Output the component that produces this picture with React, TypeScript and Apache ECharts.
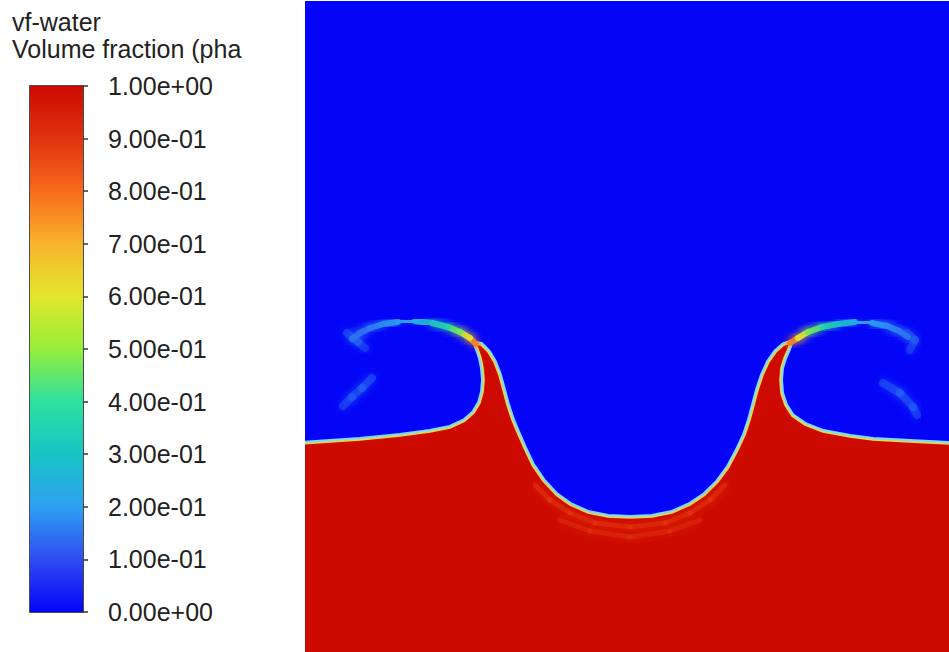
import React, { useEffect, useRef } from "react";
import * as echarts from "echarts";

// ---- colour scale (volume fraction of water, 0 .. 1) ----
const colormapColors = [
  "#0404f6", "#2f4cf2", "#2ea0f2", "#18c4c4", "#2ee0a0", "#96ee3a",
  "#e2e62c", "#f8b42c", "#f86a1c", "#e03210", "#cc0a00",
];
const colorbarTicks = [0, 0.1, 0.2, 0.3, 0.4, 0.5, 0.6, 0.7, 0.8, 0.9, 1.0];

const titleLines = ["vf-water", "Volume fraction (pha"];

// ---- water / air interface (domain coordinates, % of width / height) ----
const interfaceX = [
  0, 3.88, 8.54, 14.75, 19.41, 22.52, 24.84, 26.24, 27.17, 27.64, 27.8, 27.64, 27.33, 26.86, 26.55,
  27.33, 28.42, 29.35, 30.12, 30.75, 31.37, 32.14, 32.92, 34.01, 35.25, 36.96, 38.98, 41.15, 43.94,
  47.05, 50.47, 53.88, 56.99, 59.78, 62.11, 64.13, 65.84, 67.24, 68.32, 69.1, 69.72, 70.34, 71.12,
  72.05, 73.14, 74.38, 75.31,
  75.0, 74.38, 73.91, 73.76, 73.91, 74.53, 75.62, 77.64, 80.43, 84.63, 88.2, 93.94, 100,
];
const interfaceY = [
  32.0, 32.26, 32.57, 33.18, 33.79, 34.41, 35.48, 36.71, 38.25, 39.94, 41.78, 43.63, 45.16, 46.54, 47.31,
  47.16, 46.08, 44.55, 42.55, 40.25, 37.94, 35.64, 33.79, 31.34, 28.73, 26.27, 24.12, 22.58, 21.35,
  20.74, 20.58, 20.74, 21.35, 22.58, 24.12, 26.11, 28.42, 31.03, 33.33, 35.64, 37.94, 40.25, 42.55,
  44.55, 46.08, 47.16, 47.47,
  46.54, 45.16, 43.63, 41.78, 39.78, 37.94, 36.25, 34.87, 33.79, 33.03, 32.57, 32.26, 31.95,
];

// ---- thin water films over the breaking crests: [x, y, volume fraction] ----
const filmLeft = [
  [26.55, 47.31, 0.78], [25.62, 48.23, 0.6], [24.07, 49.16, 0.46], [22.2, 49.92, 0.35],
  [19.72, 50.54, 0.27], [17.08, 50.84, 0.22], [14.44, 50.69, 0.19], [12.11, 50.38, 0.17],
  [10.09, 49.77, 0.15], [8.54, 49.0, 0.14], [7.3, 48.08, 0.12],
];
const filmRight = [
  [75.31, 47.47, 0.78], [76.55, 48.23, 0.6], [78.11, 49.16, 0.46], [80.28, 49.92, 0.35],
  [82.76, 50.38, 0.27], [85.4, 50.69, 0.22], [88.04, 50.54, 0.19], [90.37, 50.08, 0.17],
  [92.24, 49.31, 0.15], [93.63, 48.39, 0.13],
];
const blobLeft = [[6.52, 49.0, 0.16], [8.23, 47.62, 0.15], [9.32, 46.7, 0.14]];
const blobRight = [[93.48, 49.0, 0.16], [94.72, 47.93, 0.15], [93.94, 46.39, 0.14]];
const streakLeft = [[10.4, 42.09, 0.17], [8.85, 40.55, 0.16], [7.3, 39.17, 0.15], [5.9, 37.79, 0.14]];
const streakRight = [[89.75, 41.32, 0.17], [92.39, 39.78, 0.16], [94.41, 37.63, 0.15], [95.03, 36.41, 0.14]];
const rippleInner = [
  [35.71, 25.65, 0.86], [38.04, 23.35, 0.86], [41.15, 21.35, 0.86], [45.03, 19.82, 0.86],
  [50.47, 19.2, 0.86], [55.9, 19.82, 0.86], [59.78, 21.35, 0.86], [62.89, 23.35, 0.86], [65.22, 25.65, 0.86],
];
const rippleOuter = [
  [39.6, 20.28, 0.88], [44.25, 18.59, 0.88], [50.47, 17.67, 0.88], [56.68, 18.59, 0.88], [61.34, 20.28, 0.88],
];

const BLUE = colormapColors[0];
const RED = colormapColors[colormapColors.length - 1];

function fmtExp(v: number) {
  const [m, e] = v.toExponential(2).split("e");
  const n = parseInt(e, 10);
  return m + "e" + (n < 0 ? "-" : "+") + String(Math.abs(n)).padStart(2, "0");
}

export default function App() {
  const ref = useRef<HTMLDivElement>(null);
  useEffect(() => {
    if (!ref.current) return;
    const chart = echarts.init(ref.current, null, { renderer: "svg" });

    const interfacePts = interfaceX.map((x, i) => [x, interfaceY[i]]);

    const groups: { kind: string; pts: number[][] }[] = [
      { kind: "film", pts: filmLeft },
      { kind: "film", pts: filmRight },
      { kind: "faint", pts: blobLeft },
      { kind: "faint", pts: blobRight },
      { kind: "faint", pts: streakLeft },
      { kind: "faint", pts: streakRight },
      { kind: "ripple", pts: rippleInner },
      { kind: "ripple", pts: rippleOuter },
    ];
    const filmData: number[][] = [];
    groups.forEach((g, gi) => g.pts.forEach((p) => filmData.push([p[0], p[1], p[2], gi])));

    const stops = colormapColors.map((c, i) => ({ offset: i / (colormapColors.length - 1), color: c }));

    const labelFont = { fontFamily: "Liberation Sans, Arial, sans-serif", fontSize: 25, color: "#222" };

    chart.setOption({
      animation: false,
      backgroundColor: "#ffffff",
      graphic: titleLines.map((t, i) => ({
        type: "text",
        left: 12,
        top: 9 + i * 27,
        style: { text: t, font: "25px 'Liberation Sans', Arial, sans-serif", fill: "#222" },
      })),
      grid: [
        { left: 305, top: 1, width: 644, height: 651, show: true, backgroundColor: BLUE, borderWidth: 0 },
        { left: 30, top: 86, width: 53, height: 526, show: true, borderColor: "#111", borderWidth: 1.5, backgroundColor: "transparent" },
      ],
      xAxis: [
        { gridIndex: 0, type: "value", min: 0, max: 100, show: false },
        { gridIndex: 1, type: "category", data: ["vf-water"], show: false },
      ],
      yAxis: [
        { gridIndex: 0, type: "value", min: 0, max: 100, show: false },
        {
          gridIndex: 1,
          type: "value",
          min: 0,
          max: 1,
          interval: 0.1,
          position: "right",
          axisLine: { show: false },
          splitLine: { show: false },
          axisTick: { show: true, length: 5, customValues: colorbarTicks, lineStyle: { color: "#333", width: 1.5 } },
          axisLabel: { margin: 25, customValues: colorbarTicks, formatter: (v: number) => fmtExp(v), ...labelFont },
        },
      ],
      visualMap: {
        show: false,
        seriesIndex: 2,
        dimension: 2,
        min: 0,
        max: 1,
        inRange: { color: colormapColors },
      },
      series: [
        {
          type: "bar",
          xAxisIndex: 1,
          yAxisIndex: 1,
          data: [1],
          barWidth: "100%",
          itemStyle: { color: new echarts.graphic.LinearGradient(0, 1, 0, 0, stops) },
          silent: true,
        },
        {
          type: "custom",
          xAxisIndex: 0,
          yAxisIndex: 0,
          clip: true,
          data: interfacePts,
          encode: { x: 0, y: 1 },
          renderItem: (params: any, api: any) => {
            if (params.dataIndex !== 0) return null;
            const pts = interfacePts.map((p) => api.coord(p));
            const base = [api.coord([100, 0]), api.coord([0, 0])];
            return {
              type: "group",
              children: [
                { type: "polyline", shape: { points: pts }, style: { stroke: "#7fd8ff", lineWidth: 6, fill: "none", lineJoin: "round" } },
                { type: "polygon", shape: { points: pts.concat(base) }, style: { fill: RED } },
                { type: "polyline", shape: { points: pts }, style: { stroke: "#f0d83a", lineWidth: 1.6, fill: "none", lineJoin: "round" } },
              ],
            };
          },
          silent: true,
        },
        {
          type: "custom",
          xAxisIndex: 0,
          yAxisIndex: 0,
          clip: true,
          data: filmData,
          encode: { x: 0, y: 1 },
          renderItem: (params: any, api: any) => {
            const i = params.dataIndex;
            const cur = filmData[i];
            const nxt = filmData[i + 1];
            if (!nxt || nxt[3] !== cur[3]) return null;
            const a = api.coord([cur[0], cur[1]]);
            const b = api.coord([nxt[0], nxt[1]]);
            const color = api.visual("color");
            const kind = groups[cur[3]].kind;
            const lw = kind === "film" ? 6 : kind === "faint" ? 8 : 5;
            const op = kind === "film" ? 0.9 : kind === "faint" ? 0.35 : 0.35;
            return {
              type: "line",
              shape: { x1: a[0], y1: a[1], x2: b[0], y2: b[1] },
              style: { stroke: color, lineWidth: lw, lineCap: "round", opacity: op, shadowBlur: 8, shadowColor: color },
            };
          },
          silent: true,
        },
      ],
    });
    return () => chart.dispose();
  }, []);
  return <div ref={ref} style={{ position: "fixed", left: 0, top: 0, width: 949, height: 652 }} />;
}
